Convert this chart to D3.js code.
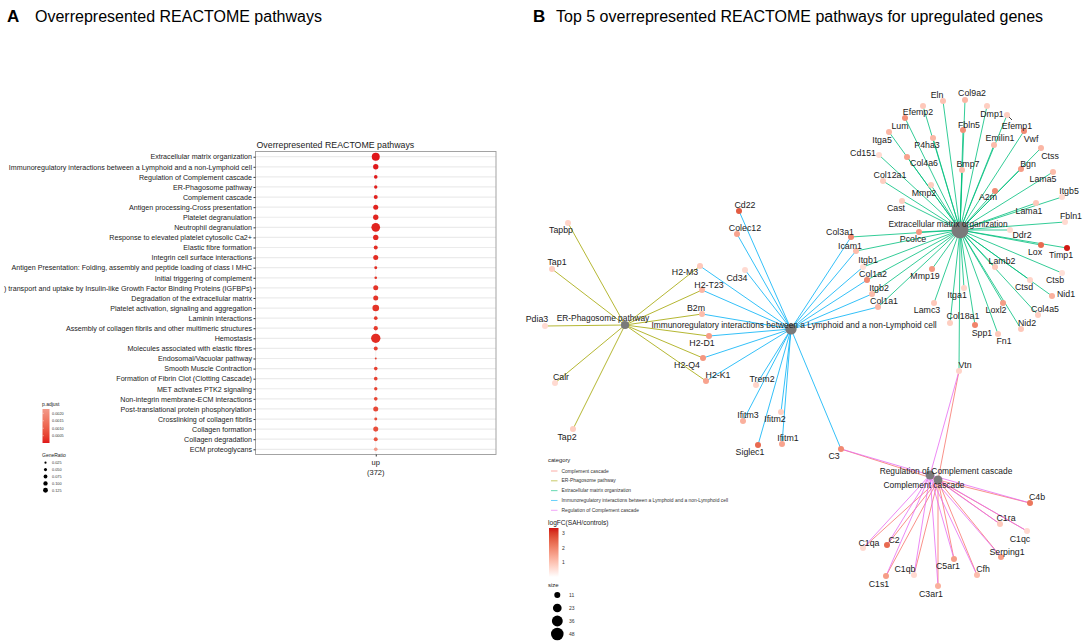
<!DOCTYPE html>
<html><head><meta charset="utf-8">
<script src="https://cdn.jsdelivr.net/npm/d3@7"></script>
<style>body{margin:0;background:#fff}svg{display:block;font-family:"Liberation Sans",Arial,sans-serif}</style>
</head><body><svg id="c" width="1084" height="644"></svg>
<script>
// ---------------- DATA: panel A (dot plot) ----------------
const pathways = [
"Extracellular matrix organization",
"Immunoregulatory interactions between a Lymphoid and a non-Lymphoid cell",
"Regulation of Complement cascade",
"ER-Phagosome pathway",
"Complement cascade",
"Antigen processing-Cross presentation",
"Platelet degranulation ",
"Neutrophil degranulation",
"Response to elevated platelet cytosolic Ca2+",
"Elastic fibre formation",
"Integrin cell surface interactions",
"Antigen Presentation: Folding, assembly and peptide loading of class I MHC",
"Initial triggering of complement",
") transport and uptake by Insulin-like Growth Factor Binding Proteins (IGFBPs)",
"Degradation of the extracellular matrix",
"Platelet activation, signaling and aggregation",
"Laminin interactions",
"Assembly of collagen fibrils and other multimeric structures",
"Hemostasis",
"Molecules associated with elastic fibres",
"Endosomal/Vacuolar pathway",
"Smooth Muscle Contraction",
"Formation of Fibrin Clot (Clotting Cascade)",
"MET activates PTK2 signaling",
"Non-integrin membrane-ECM interactions",
"Post-translational protein phosphorylation",
"Crosslinking of collagen fibrils",
"Collagen formation",
"Collagen degradation",
"ECM proteoglycans"];
const geneRatio = [0.130,0.058,0.027,0.023,0.032,0.051,0.058,0.152,0.058,0.032,0.051,0.018,0.014,0.051,0.051,0.090,0.027,0.038,0.177,0.032,0.008,0.027,0.027,0.023,0.027,0.051,0.018,0.051,0.032,0.027];
const pAdjust = [0.00001,0.00002,0.00004,0.00008,0.0001,0.0001,0.00012,0.00012,0.00015,0.0002,0.0002,0.00022,0.0003,0.0003,0.0003,0.0003,0.00035,0.0004,0.0002,0.00045,0.0005,0.0005,0.0005,0.00055,0.0006,0.0006,0.0007,0.0007,0.0008,0.00229];
const groups = ["up"];
const groupCounts = ["(372)"];
const pLegendTicks = [0.0020,0.0015,0.0010,0.0005];
const grLegendTicks = [0.025,0.050,0.075,0.100,0.125];

// ---------------- DATA: panel B (gene-concept network) ----------------
const categories = ["Complement cascade","ER-Phagosome pathway","Extracellular matrix organization","Immunoregulatory interactions between a Lymphoid and a non-Lymphoid cell","Regulation of Complement cascade"];
const categoryColors = ["#F8766D","#A3A500","#00BF7D","#00B0F6","#E76BF3"];
const hubX = [938,625,960,791,930];
const hubY = [480,325,230,329,475];
const catGenes = [
 ["C3","Vtn","C4b","C1ra","C1qc","Serping1","Cfh","C5ar1","C3ar1","C1qb","C1s1","C2","C1qa"],
 ["Tapbp","Tap1","Pdia3","Calr","Tap2","H2-M3","H2-T23","B2m","H2-D1","H2-Q4","H2-K1"],
 ["Eln","Col9a2","Efemp2","Lum","Dmp1","Efemp1","Fbln5","Itga5","P4ha3","Emilin1","Vwf","Cd151","Col4a6","Bmp7","Bgn","Ctss","Lama5","Col12a1","Mmp2","A2m","Itgb5","Cast","Lama1","Fbln1","Ddr2","Pcolce","Lox","Timp1","Lamb2","Mmp19","Ctsb","Itga1","Ctsd","Nid1","Lamc3","Loxl2","Col4a5","Col18a1","Spp1","Nid2","Fn1","Vtn","Col3a1","Icam1","Itgb1","Col1a2","Itgb2","Col1a1"],
 ["Cd22","Colec12","Cd34","H2-M3","H2-T23","B2m","H2-D1","H2-Q4","H2-K1","Trem2","Ifitm3","Ifitm2","Siglec1","Ifitm1","C3","Col3a1","Icam1","Itgb1","Col1a2","Itgb2","Col1a1"],
 ["C3","Vtn","C4b","C1ra","C1qc","Serping1","Cfh","C5ar1","C3ar1","C1qb","C1s1","C2","C1qa"]
];
// gene: [layout x, layout y, logFC]
const genes = {
 "Tapbp":[568,223,0.7],"Tap1":[552,269,0.8],"Pdia3":[545,326,0.6],"Calr":[555,383,0.6],"Tap2":[573,429,0.8],
 "H2-M3":[700,266,0.9],"H2-T23":[702,290,1.2],"B2m":[702,314,1.1],"H2-D1":[709,336,1.6],"H2-Q4":[703,358,1.7],"H2-K1":[706,381,1.5],
 "Cd22":[739,211,2.6],"Colec12":[737,234,1.5],"Cd34":[745,270,0.6],"Trem2":[756,385,0.7],"Ifitm3":[743,421,1.3],"Ifitm2":[781,412,0.8],
 "Siglec1":[758,445,2.4],"Ifitm1":[782,444,1.5],"C3":[841,449,1.9],
 "Col3a1":[851,237,1.9],"Icam1":[856,251,1.1],"Itgb1":[863,267,0.5],"Col1a2":[867,280,1.9],"Itgb2":[872,294,1.1],"Col1a1":[878,307,1.2],
 "Eln":[943,101,1.0],"Col9a2":[965,100,1.2],"Efemp2":[923,106,0.9],"Lum":[905,118,1.8],"Dmp1":[987,106,0.8],"Efemp1":[1007,115,0.8],
 "Fbln5":[963,130,1.8],"Itga5":[889,132,1.2],"P4ha3":[933,138,1.2],"Emilin1":[994,145,1.1],"Vwf":[1024,131,1.9],"Cd151":[879,155,0.6],
 "Col4a6":[907,157,1.5],"Bmp7":[962,170,1.1],"Bgn":[1021,169,1.6],"Ctss":[1041,148,1.2],"Lama5":[1053,172,1.1],"Col12a1":[883,181,0.8],
 "Mmp2":[931,185,0.8],"A2m":[995,191,1.9],"Itgb5":[1062,197,0.6],"Cast":[902,201,0.8],"Lama1":[1036,203,0.9],"Fbln1":[1065,222,0.6],
 "Ddr2":[1010,230,0.6],"Pcolce":[919,232,1.7],"Lox":[1041,245,2.4],"Timp1":[1067,248,3.3],"Lamb2":[995,267,0.9],"Mmp19":[932,269,1.7],
 "Ctsb":[1062,273,0.5],"Itga1":[964,288,0.7],"Ctsd":[1030,280,0.7],"Nid1":[1052,296,1.3],"Lamc3":[934,303,0.9],"Loxl2":[1003,303,1.6],
 "Col4a5":[1038,315,0.8],"Col18a1":[950,323,0.8],"Spp1":[975,325,2.0],"Nid2":[1021,329,0.9],"Fn1":[998,334,0.9],"Vtn":[959,371,0.7],
 "C4b":[1030,503,2.2],"C1ra":[1000,524,0.9],"C1qc":[1027,531,0.6],"Serping1":[1001,557,1.6],"Cfh":[977,575,1.1],"C5ar1":[954,559,1.6],
 "C3ar1":[938,586,1.3],"C1qb":[914,575,0.6],"C1s1":[886,576,1.6],"C2":[887,545,2.4],"C1qa":[863,548,0.6]
};
const logFCLegendTicks = [1,2,3];
const sizeLegendTicks = [11,23,36,48];

// ---------------- LAYOUT (label placement, not data) ----------------
const labelOffset = {
 "Tapbp":[-7,10],"Tap1":[5,-4],"Pdia3":[-8,-4],"Calr":[6,-3],"Tap2":[-6,11],"H2-M3":[-15,9],"H2-T23":[7,-2],"B2m":[-6,-3],
 "H2-D1":[-7,10],"H2-Q4":[-16,9.5],"H2-K1":[12,-3],"Cd22":[6,-3.5],"Colec12":[8,-3.5],"Cd34":[-8,10.5],"Trem2":[6,-3],
 "Ifitm3":[5,-3],"Ifitm2":[-6,9.5],"Siglec1":[-8,10],"Ifitm1":[6,-3.5],"C3":[-7,10],"Col3a1":[-11,-2],"Icam1":[-6,-2],
 "Itgb1":[5,-4],"Col1a2":[6,-3],"Itgb2":[7,-3],"Col1a1":[6,-3],"Eln":[-6,-3],"Col9a2":[7,-4],"Efemp2":[-5,9],"Lum":[-5,10.5],
 "Dmp1":[5,10.5],"Efemp1":[10,14],"Fbln5":[6,-2],"Itga5":[-7,11],"P4ha3":[-6,10],"Emilin1":[6,-4],"Vwf":[7,11],"Cd151":[-16,1],
 "Col4a6":[17,9],"Bmp7":[6,-3],"Bgn":[7,-2],"Ctss":[9,10.5],"Lama5":[-10,10],"Col12a1":[7,-3],"Mmp2":[-7,11],"A2m":[-7,9],
 "Itgb5":[7,-3],"Cast":[-6,10],"Lama1":[-7,11],"Fbln1":[6,-3],"Ddr2":[12,7.5],"Pcolce":[-6,10],"Lox":[-6,10],"Timp1":[-6,10],
 "Lamb2":[7,-3.5],"Mmp19":[-7,10],"Ctsb":[-7,10],"Itga1":[-7,10],"Ctsd":[-6,10],"Nid1":[14,1],"Lamc3":[-7,10],"Loxl2":[-7,10],
 "Col4a5":[7,-3],"Col18a1":[13,-4],"Spp1":[7,10.5],"Nid2":[6,-3],"Fn1":[6,10],"Vtn":[6,-3],"C4b":[7,-3],"C1ra":[6,-3],
 "C1qc":[-7,11],"Serping1":[6,-2.5],"Cfh":[6,-3],"C5ar1":[-6,10],"C3ar1":[-7,10.5],"C1qb":[-9,-3.5],"C1s1":[-7,10.5],
 "C2":[7,-2.5],"C1qa":[6,-2.5]
};
const hubLabelOffset = [[-14,8],[-22,-4.5],[-12,-3],[3,-1],[16,-1]];

// ---------------- DRAW ----------------
const svg = d3.select("#c");
svg.append("rect").attr("width",1084).attr("height",644).attr("fill","#fff");

// panel titles
svg.append("text").attr("x",7).attr("y",21.5).attr("font-size",17).attr("font-weight","bold").text("A");
svg.append("text").attr("x",35).attr("y",21.5).attr("font-size",16).text("Overrepresented REACTOME pathways");
svg.append("text").attr("x",533).attr("y",21.5).attr("font-size",17).attr("font-weight","bold").text("B");
svg.append("text").attr("x",556).attr("y",21.5).attr("font-size",16).text("Top 5 overrepresented REACTOME pathways for upregulated genes");

// ---- Panel A ----
const pL=255.5, pR=496, pT=151.5, pB=454.5;
const yA = d3.scalePoint().domain(pathways).range([156.7,449.3]);
const xA = d3.scalePoint().domain(groups).range([pL,pR]).padding(0.5);
const rA = d3.scaleSqrt().domain([0,0.13]).range([0,4]);
const cA = d3.scaleLinear().domain([0.00001,0.00229]).range(["#E0161A","#F39A8A"]).interpolate(d3.interpolateLab);
const gA = svg.append("g");
gA.append("text").attr("x",pL+1).attr("y",147.5).attr("font-size",8.8).attr("fill","#222").text("Overrepresented REACTOME pathways");
gA.append("rect").attr("x",pL).attr("y",pT).attr("width",pR-pL).attr("height",pB-pT).attr("fill","#fff");
gA.selectAll("line.grid").data(pathways).join("line").attr("class","grid")
  .attr("x1",pL).attr("x2",pR).attr("y1",d=>yA(d)).attr("y2",d=>yA(d)).attr("stroke","#EBEBEB").attr("stroke-width",1.2);
gA.selectAll("line.vgrid").data(groups).join("line").attr("class","vgrid")
  .attr("x1",d=>xA(d)).attr("x2",d=>xA(d)).attr("y1",pT).attr("y2",pB).attr("stroke","#F2F2F2").attr("stroke-width",1);
gA.append("rect").attr("x",pL).attr("y",pT).attr("width",pR-pL).attr("height",pB-pT).attr("fill","none").attr("stroke","#9A9A9A").attr("stroke-width",0.9);
const yAxis = d3.axisLeft(yA).tickSize(2).tickPadding(1.5);
const ya = gA.append("g").attr("transform",`translate(${pL},0)`).call(yAxis);
ya.select(".domain").remove();
ya.selectAll("text").attr("font-size",7.15).attr("fill","#222").attr("font-family","Liberation Sans, Arial, sans-serif");
ya.selectAll("line").attr("stroke","#333");
const xAxis = d3.axisBottom(xA).tickSize(2).tickFormat(()=>"" );
const xa = gA.append("g").attr("transform",`translate(0,${pB})`).call(xAxis);
xa.select(".domain").remove(); xa.selectAll("line").attr("stroke","#333");
gA.selectAll("text.xl").data(groups).join("text").attr("class","xl").attr("x",d=>xA(d)).attr("y",465).attr("text-anchor","middle").attr("font-size",7.5).attr("fill","#222").text(d=>d);
gA.selectAll("text.xc").data(groupCounts).join("text").attr("class","xc").attr("x",(d,i)=>xA(groups[i])).attr("y",475).attr("text-anchor","middle").attr("font-size",7.5).attr("fill","#222").text(d=>d);
gA.selectAll("circle.dot").data(pathways).join("circle").attr("class","dot")
  .attr("cx",xA("up")).attr("cy",d=>yA(d)).attr("r",(d,i)=>rA(geneRatio[i])).attr("fill",(d,i)=>cA(pAdjust[i]));

// legends panel A
const defs = svg.append("defs");
const lgP = defs.append("linearGradient").attr("id","gP").attr("x1",0).attr("x2",0).attr("y1",0).attr("y2",1);
d3.range(0,1.01,0.1).forEach(t=>lgP.append("stop").attr("offset",t).attr("stop-color",cA(0.00229-t*(0.00229-0.00001))));
svg.append("text").attr("x",42).attr("y",405.5).attr("font-size",5).attr("fill","#222").text("p.adjust");
svg.append("rect").attr("x",42.5).attr("y",409).attr("width",7).attr("height",34).attr("fill","url(#gP)");
const pLeg = d3.scaleLinear().domain([0.00001,0.00229]).range([443,409]);
svg.selectAll("text.pl").data(pLegendTicks).join("text").attr("class","pl").attr("x",52).attr("y",d=>pLeg(d)+1.3).attr("font-size",3.8).attr("fill","#333").text(d=>d.toFixed(4));
svg.selectAll("line.plt").data(pLegendTicks).join("line").attr("class","plt").attr("x1",42.5).attr("x2",44).attr("y1",d=>pLeg(d)).attr("y2",d=>pLeg(d)).attr("stroke","#fff").attr("stroke-width",0.4);
svg.append("text").attr("x",42).attr("y",456.5).attr("font-size",5).attr("fill","#222").text("GeneRatio");
const grLegY = d3.scalePoint().domain(grLegendTicks).range([462.7,490.3]);
svg.selectAll("circle.gl").data(grLegendTicks).join("circle").attr("class","gl").attr("cx",45.5).attr("cy",d=>grLegY(d)).attr("r",d=>rA(d)*0.62).attr("fill","#000");
svg.selectAll("text.gl").data(grLegendTicks).join("text").attr("class","gl").attr("x",52).attr("y",d=>grLegY(d)+1.3).attr("font-size",3.8).attr("fill","#333").text(d=>d.toFixed(3));

// ---- Panel B ----
const xB = d3.scaleLinear().domain([500,1084]).range([500,1084]);
const yB = d3.scaleLinear().domain([0,644]).range([0,644]);
const cB = d3.scaleLinear().domain([0,3.35]).range(["#FFFFFF","#D01010"]).interpolate(d3.interpolateLab);
const hubSize = catGenes.map(g=>g.length);
const sB = d3.scaleSqrt().domain([0,48]).range([0,8.5]);
const edges = [];
catGenes.forEach((list,ci)=>list.forEach(g=>edges.push({ci,g})));
const gB = svg.append("g");
gB.selectAll("line.edge").data(edges).join("line").attr("class","edge")
  .attr("x1",d=>xB(hubX[d.ci])).attr("y1",d=>yB(hubY[d.ci]))
  .attr("x2",d=>xB(genes[d.g][0])).attr("y2",d=>yB(genes[d.g][1]))
  .attr("stroke",d=>categoryColors[d.ci]).attr("stroke-width",1).attr("stroke-opacity",0.8);
// Efemp1 leader line
gB.append("line").attr("x1",xB(genes["Efemp1"][0])).attr("y1",yB(genes["Efemp1"][1]))
  .attr("x2",xB(genes["Efemp1"][0])+5).attr("y2",yB(genes["Efemp1"][1])+5).attr("stroke","#111").attr("stroke-width",0.8);
const geneNames = Object.keys(genes);
gB.selectAll("circle.gene").data(geneNames).join("circle").attr("class","gene")
  .attr("cx",d=>xB(genes[d][0])).attr("cy",d=>yB(genes[d][1])).attr("r",3).attr("fill",d=>cB(genes[d][2]));
gB.selectAll("circle.hub").data(categories).join("circle").attr("class","hub")
  .attr("cx",(d,i)=>xB(hubX[i])).attr("cy",(d,i)=>yB(hubY[i])).attr("r",(d,i)=>sB(hubSize[i])).attr("fill","#7A7A7A");
gB.selectAll("text.gene").data(geneNames).join("text").attr("class","gene")
  .attr("x",d=>xB(genes[d][0])+labelOffset[d][0]).attr("y",d=>yB(genes[d][1])+labelOffset[d][1])
  .attr("text-anchor","middle").attr("font-size",8.8).attr("fill","#1a1a1a").text(d=>d);
gB.selectAll("text.hub").data(categories).join("text").attr("class","hub")
  .attr("x",(d,i)=>xB(hubX[i])+hubLabelOffset[i][0]).attr("y",(d,i)=>yB(hubY[i])+hubLabelOffset[i][1])
  .attr("text-anchor","middle").attr("font-size",8.4).attr("fill","#1a1a1a").text(d=>d);

// legends panel B
svg.append("text").attr("x",548).attr("y",462).attr("font-size",5.8).attr("fill","#222").text("category");
const catY = d3.scalePoint().domain(categories).range([471,510.3]);
svg.selectAll("line.cl").data(categories).join("line").attr("class","cl")
  .attr("x1",551).attr("x2",557.5).attr("y1",d=>catY(d)).attr("y2",d=>catY(d))
  .attr("stroke",(d,i)=>categoryColors[i]).attr("stroke-width",1).attr("stroke-opacity",0.6);
svg.selectAll("text.cl").data(categories).join("text").attr("class","cl")
  .attr("x",561.5).attr("y",d=>catY(d)+1.6).attr("font-size",4.9).attr("fill","#333").text(d=>d);
svg.append("text").attr("x",548).attr("y",525).attr("font-size",6.6).attr("fill","#222").text("logFC(SAH/controls)");
const lgF = defs.append("linearGradient").attr("id","gF").attr("x1",0).attr("x2",0).attr("y1",0).attr("y2",1);
d3.range(0,1.01,0.1).forEach(t=>lgF.append("stop").attr("offset",t).attr("stop-color",cB(3.35*(1-t))));
const fLeg = d3.scaleLinear().domain([0,3.35]).range([577,528]);
svg.append("rect").attr("x",549).attr("y",528).attr("width",9.5).attr("height",49).attr("fill","url(#gF)");
svg.selectAll("text.fl").data(logFCLegendTicks).join("text").attr("class","fl").attr("x",562).attr("y",d=>fLeg(d)+1.8).attr("font-size",5).attr("fill","#333").text(d=>d);
svg.append("text").attr("x",548).attr("y",587).attr("font-size",6).attr("fill","#222").text("size");
const sLegY = d3.scalePoint().domain(sizeLegendTicks).range([595,634]);
svg.selectAll("circle.sl").data(sizeLegendTicks).join("circle").attr("class","sl").attr("cx",557.3).attr("cy",d=>sLegY(d)).attr("r",d=>sB(d)*0.74).attr("fill","#000");
svg.selectAll("text.sl").data(sizeLegendTicks).join("text").attr("class","sl").attr("x",569).attr("y",d=>sLegY(d)+1.8).attr("font-size",5).attr("fill","#333").text(d=>d);
</script></body></html>
